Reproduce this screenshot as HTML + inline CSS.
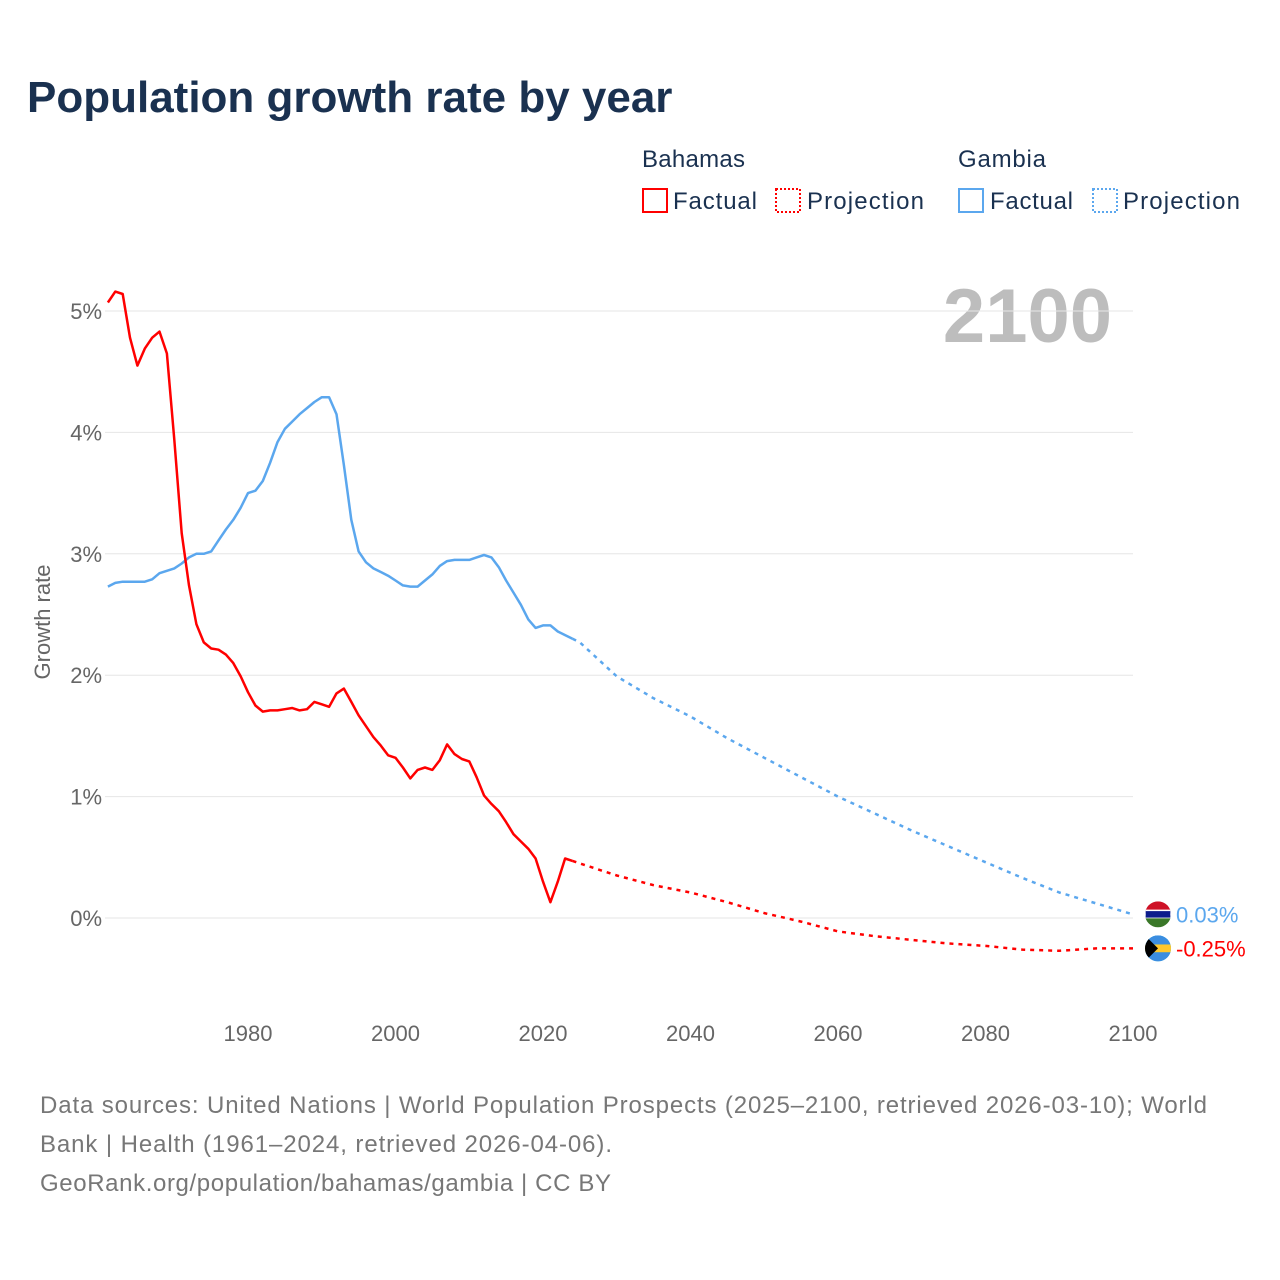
<!DOCTYPE html>
<html><head><meta charset="utf-8">
<style>
body{margin:0;background:#fff;font-family:"Liberation Sans",sans-serif;}
#wrap{position:relative;width:1280px;height:1280px;overflow:hidden;}
</style></head>
<body>
<div id="wrap">
<svg id="chart" width="1280" height="1280" style="font-family:'Liberation Sans',sans-serif">
<text x="27" y="112" font-size="44" font-weight="bold" fill="#1a3150">Population growth rate by year</text>
<g font-size="24" fill="#1a3150">
<text x="642" y="167" textLength="103">Bahamas</text>
<text x="958" y="167" textLength="88">Gambia</text>
<g><rect x="643" y="189" width="24" height="23" fill="none" stroke="#f00" stroke-width="2"/><text x="673" y="209" textLength="84">Factual</text></g>
<g><rect x="776" y="189" width="24" height="23" fill="none" stroke="#f00" stroke-width="2" stroke-dasharray="2,2"/><text x="807" y="209" textLength="117">Projection</text></g>
<g><rect x="959" y="189" width="24" height="23" fill="none" stroke="#5ba7ee" stroke-width="2"/><text x="990" y="209" textLength="83">Factual</text></g>
<g><rect x="1093" y="189" width="24" height="23" fill="none" stroke="#5ba7ee" stroke-width="2" stroke-dasharray="2,2"/><text x="1123" y="209" textLength="117">Projection</text></g>
</g>
<text x="1112" y="342" font-size="76" font-weight="bold" fill="#bdbdbd" text-anchor="end">2100</text>
<text transform="translate(50,622) rotate(-90)" font-size="22" fill="#666" text-anchor="middle">Growth rate</text>
<g id="grid"></g><g id="series"></g>
<g font-size="24" fill="#777">
<text x="40" y="1113" textLength="1167">Data sources: United Nations | World Population Prospects (2025–2100, retrieved 2026-03-10); World</text>
<text x="40" y="1152" textLength="572">Bank | Health (1961–2024, retrieved 2026-04-06).</text>
<text x="40" y="1191" textLength="571">GeoRank.org/population/bahamas/gambia | CC BY</text>
</g>
</svg>
</div>
<script>
const yTicks=[0,1,2,3,4,5];
const xTicks=[1980,2000,2020,2040,2060,2080,2100];
const bahYears=[];for(let y=1961;y<=2024;y++)bahYears.push(y);
const bahamasFactual=[5.07,5.16,5.14,4.78,4.55,4.69,4.78,4.83,4.65,3.94,3.17,2.74,2.42,2.27,2.22,2.21,2.17,2.10,1.99,1.86,1.75,1.70,1.71,1.71,1.72,1.73,1.71,1.72,1.78,1.76,1.74,1.85,1.89,1.78,1.67,1.58,1.49,1.42,1.34,1.32,1.24,1.15,1.22,1.24,1.22,1.30,1.43,1.35,1.31,1.29,1.16,1.01,0.94,0.88,0.79,0.69,0.63,0.57,0.49,0.30,0.13,0.30,0.49,0.47];
const gambiaFactual=[2.73,2.76,2.77,2.77,2.77,2.77,2.79,2.84,2.86,2.88,2.92,2.97,3.00,3.00,3.02,3.11,3.20,3.28,3.38,3.50,3.52,3.60,3.75,3.92,4.03,4.09,4.15,4.20,4.25,4.29,4.29,4.15,3.73,3.28,3.02,2.93,2.88,2.85,2.82,2.78,2.74,2.73,2.73,2.78,2.83,2.90,2.94,2.95,2.95,2.95,2.97,2.99,2.97,2.89,2.78,2.68,2.58,2.46,2.39,2.41,2.41,2.36,2.33,2.30];
const projYears=[2024,2025,2030,2035,2040,2045,2050,2055,2060,2065,2070,2075,2080,2085,2090,2095,2100];
const bahamasProj=[0.47,0.45,0.35,0.27,0.21,0.13,0.04,-0.03,-0.11,-0.15,-0.18,-0.21,-0.23,-0.26,-0.27,-0.25,-0.25];
const gambiaProj=[2.30,2.27,1.99,1.81,1.66,1.48,1.32,1.16,1.00,0.86,0.72,0.59,0.46,0.33,0.21,0.12,0.03];

const NS="http://www.w3.org/2000/svg";
const X=yr=>107.9+(yr-1961)*7.375;
const Y=v=>918-v*121.4;
const grid=document.getElementById('grid'),ser=document.getElementById('series');
function mk(tag,at,parent){const e=document.createElementNS(NS,tag);for(const k in at)e.setAttribute(k,at[k]);parent.appendChild(e);return e;}
yTicks.forEach(t=>{
 const l=mk('line',{x1:105,x2:1133,y1:Y(t),y2:Y(t),stroke:'#e6e6e6','stroke-width':1},grid);
 
 
 const tx=mk('text',{x:102,y:Y(t)+8,'font-size':22,fill:'#666','text-anchor':'end'},grid);
 tx.textContent=t+'%';
 
 
});
xTicks.forEach(t=>{
 const tx=mk('text',{x:X(t),y:1041,'font-size':22,fill:'#666','text-anchor':'middle'},grid);
 tx.textContent=t;
 
 
});
function line(xs,vs,color,dash,name){
 const d=xs.map((x,i)=>(i?'L':'M')+X(x).toFixed(1)+','+Y(vs[i]).toFixed(1)).join('');
 const p=mk('path',{d:d,fill:'none',stroke:color,'stroke-width':2.5,'stroke-linejoin':'round'},ser);
 if(dash)p.setAttribute('stroke-dasharray','4,5');
 
 
}
line(bahYears,gambiaFactual,'#5ba7ee',false,'gambia-factual-line');
line(projYears,gambiaProj,'#5ba7ee',true,'gambia-projection-line');
line(bahYears,bahamasFactual,'#f00',false,'bahamas-factual-line');
line(projYears,bahamasProj,'#f00',true,'bahamas-projection-line');
const gy=Y(gambiaProj[gambiaProj.length-1]),by=Y(bahamasProj[bahamasProj.length-1]);
const gf=mk('g',{},ser);


const cgp=mk('clipPath',{id:'cg'},gf);mk('circle',{cx:1158,cy:gy,r:13},cgp);
const gg=mk('g',{'clip-path':'url(#cg)'},gf);
mk('rect',{x:1145,y:gy-13,width:26,height:9,fill:'#ce1126'},gg);
mk('rect',{x:1145,y:gy-4,width:26,height:8,fill:'#0c1c8c',stroke:'#fff','stroke-width':1.5},gg);
mk('rect',{x:1145,y:gy+4,width:26,height:9,fill:'#3a7728'},gg);
const bf=mk('g',{},ser);


const cb=mk('clipPath',{id:'cb'},bf);mk('circle',{cx:1158,cy:by,r:13},cb);
const bg=mk('g',{'clip-path':'url(#cb)'},bf);
mk('rect',{x:1145,y:by-13,width:26,height:26,fill:'#00a3dd'},bg);
mk('rect',{x:1145,y:by-4,width:26,height:8,fill:'#ffc72c'},bg);
mk('rect',{x:1145,y:by-13,width:26,height:9,fill:'#3b8de0'},bg);
mk('rect',{x:1145,y:by+4,width:26,height:9,fill:'#3b8de0'},bg);
mk('polygon',{points:`1145,${by-13} 1158,${by} 1145,${by+13}`,fill:'#000'},bg);
const gl=mk('text',{x:1176,y:gy+8,'font-size':22,fill:'#5ba7ee'},ser);
gl.textContent=gambiaProj[gambiaProj.length-1].toFixed(2)+'%';


const bl=mk('text',{x:1176,y:by+8,'font-size':22,fill:'#f00'},ser);
bl.textContent=bahamasProj[bahamasProj.length-1].toFixed(2)+'%';


</script>
</body></html>
